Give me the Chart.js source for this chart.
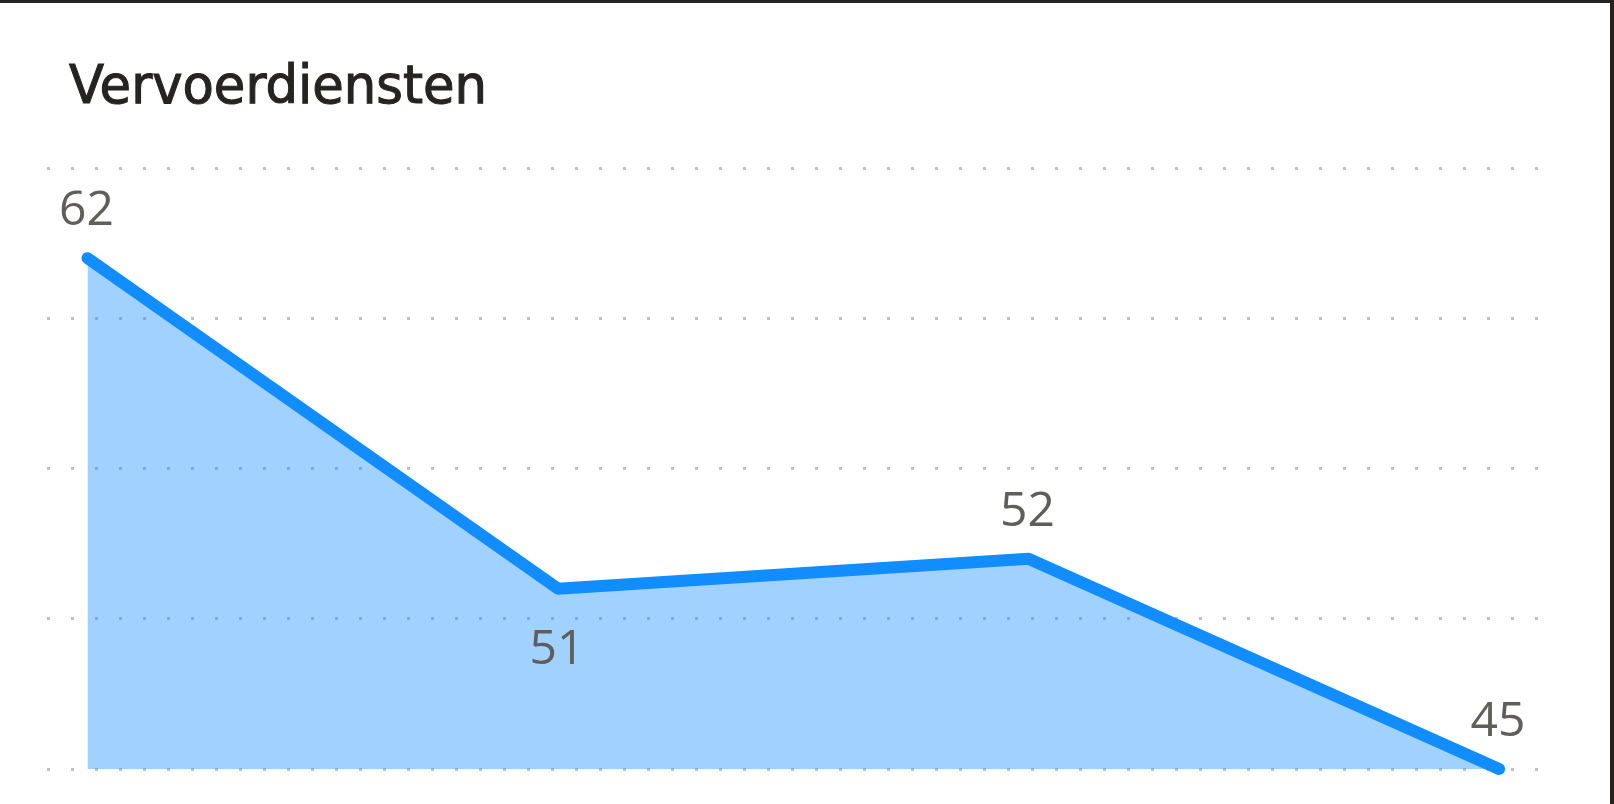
<!DOCTYPE html>
<html lang="nl">
<head>
    <meta charset="UTF-8">
    <title>Vervoerdiensten</title>
    <script src="https://cdn.jsdelivr.net/npm/chart.js"></script>
    <style>
        html, body {
            margin: 0;
            padding: 0;
            background: #fff;
        }
        #frame {
            position: relative;
            width: 1610px;
            height: 801px;
            border-top: 3px solid #252423;
            border-right: 4px solid #252423;
            background: #fff;
            overflow: hidden;
        }
        #title {
            position: absolute;
            left: 69px;
            top: 51px;
            font-family: "DejaVu Sans Condensed", "DejaVu Sans", sans-serif;
            font-size: 53px;
            color: #252423;
            -webkit-text-stroke: 1px #252423;
            white-space: nowrap;
            transform-origin: 0 0;
        }
        #chart {
            position: absolute;
            left: 0;
            top: -3px;
        }
    </style>
</head>
<body>

<div id="frame">
    <div id="title">Vervoerdiensten</div>
    <canvas id="chart" width="1614" height="804"></canvas>
</div>

<script>
    // Gegevens
    const categories = ['A', 'B', 'C', 'D'];
    const values = [62, 51, 52, 45];
    const yMin = 45;
    const yMax = 65;
    const yStep = 5;

    // titel op de juiste breedte
    const titleEl = document.getElementById('title');
    titleEl.style.transform = 'scaleX(' + (418 / titleEl.offsetWidth) + ')';

    // waardelabels boven/onder de punten
    const valueLabels = {
        id: 'valueLabels',
        afterDatasetsDraw(chart) {
            const ctx = chart.ctx;
            const pts = chart.getDatasetMeta(0).data;
            ctx.save();
            ctx.font = '48px "Open Sans", "Noto Sans", sans-serif';
            ctx.fillStyle = '#605E5C';
            ctx.textAlign = 'center';
            ctx.textBaseline = 'alphabetic';
            pts.forEach((p, i) => {
                const v = values[i];
                const below = i > 0 && i < values.length - 1 &&
                    v < values[i - 1] && v < values[i + 1];
                const y = below ? p.y + 75 : p.y - 33;
                ctx.fillText(String(v), p.x - 1, y);
            });
            ctx.restore();
        }
    };

    const ctx = document.getElementById('chart').getContext('2d');
    new Chart(ctx, {
        type: 'line',
        data: {
            datasets: [{
                label: 'Vervoerdiensten',
                data: values.map((v, i) => ({ x: i, y: v })),
                borderColor: '#118DFF',
                backgroundColor: 'rgba(17, 141, 255, 0.4)',
                borderWidth: 12,
                borderCapStyle: 'round',
                borderJoinStyle: 'round',
                fill: 'start',
                pointRadius: 0,
                tension: 0,
                clip: false
            }]
        },
        options: {
            responsive: false,
            animation: false,
            layout: {
                padding: { left: 47, right: 74, top: 168, bottom: 35 }
            },
            plugins: {
                legend: { display: false },
                title: { display: false },
                tooltip: { enabled: false }
            },
            scales: {
                x: {
                    type: 'linear',
                    display: false,
                    min: -0.086,
                    max: categories.length - 1 + 0.087
                },
                y: {
                    min: yMin,
                    max: yMax,
                    ticks: { display: false, stepSize: yStep },
                    border: { display: false, dash: [3, 21] },
                    grid: {
                        color: '#C0C0C0',
                        lineWidth: 3,
                        drawTicks: false
                    },
                    afterFit(scale) { scale.width = 0; }
                }
            }
        },
        plugins: [valueLabels]
    });
</script>

</body>
</html>
